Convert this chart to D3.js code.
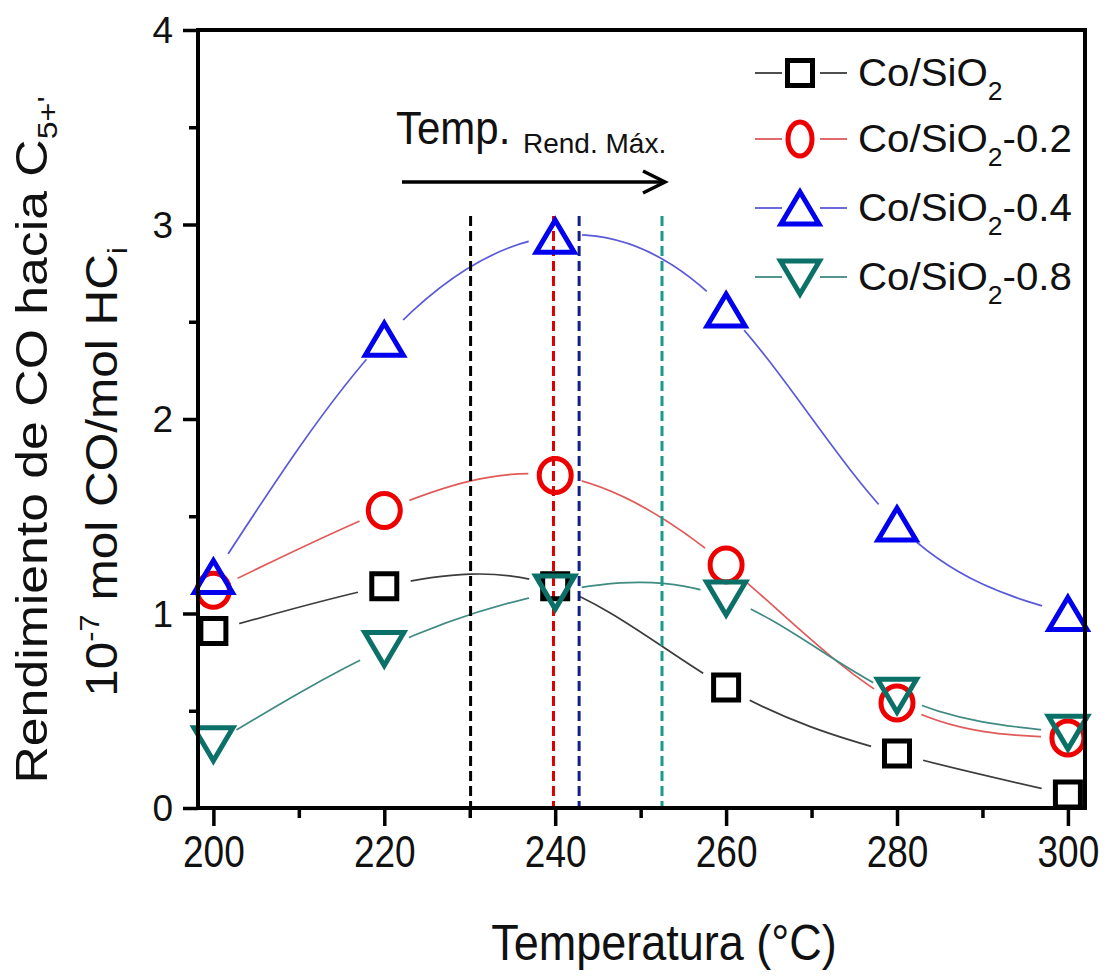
<!DOCTYPE html>
<html>
<head>
<meta charset="utf-8">
<script src="https://cdn.jsdelivr.net/npm/d3@7"></script>
<style>
  body { margin: 0; background: #fff; }
  svg { display: block; }
  text { font-family: Arial, "Liberation Sans", sans-serif; fill: #111; }
</style>
</head>
<body>
<svg id="chart" width="1110" height="977"></svg>
<script>
// Reaction temperature (°C)
const temperatures = [200, 220, 240, 260, 280, 300];
// CO yield towards C5+ (10^-7 mol CO / mol HC_i) for each catalyst
const yieldCoSiO2    = [0.91, 1.14, 1.14, 0.62, 0.28, 0.07];
const yieldCoSiO2_02 = [1.12, 1.53, 1.71, 1.25, 0.54, 0.36];
const yieldCoSiO2_04 = [1.19, 2.41, 2.94, 2.56, 1.46, 1.00];
const yieldCoSiO2_08 = [0.33, 0.82, 1.11, 1.08, 0.58, 0.39];
// Temperature of maximum yield for each catalyst
const maxYieldTemps  = [230.1, 239.8, 242.8, 252.5];
const seriesSuffix   = ["", "-0.2", "-0.4", "-0.8"];
const xTicks = [200, 220, 240, 260, 280, 300];
const xMinorTicks = [210, 230, 250, 270, 290];
const yTicks = [0, 1, 2, 3, 4];
const yMinorTicks = [0.5, 1.5, 2.5, 3.5];

const seriesValues = [yieldCoSiO2, yieldCoSiO2_02, yieldCoSiO2_04, yieldCoSiO2_08];
const markerShapes = ["square", "circle", "triangleUp", "triangleDown"];
const lineColors   = ["#3c3c3c", "#e05a5a", "#5a5ad8", "#3f8a82"];
const markerColors = ["#000000", "#ee0000", "#0000ee", "#0a7068"];
const dashColors   = ["#000000", "#dd0000", "#12208a", "#1a9a8c"];

const svg = d3.select("#chart");
const plotLeft = 198, plotRight = 1085, plotTop = 30, plotBottom = 808;

const x = d3.scaleLinear().domain([198.2, 302]).range([plotLeft, plotRight]);
const y = d3.scaleLinear().domain([0, 4]).range([plotBottom, plotTop]);

function ellipsePath(rx, ry) {
  return `M${rx},0A${rx},${ry} 0 1,1 ${-rx},0A${rx},${ry} 0 1,1 ${rx},0Z`;
}
// marker outline, centred on (0,0)
function markerPath(shape, legend) {
  switch (shape) {
    case "square": return "M-12.5,-12.5H12.5V12.5H-12.5Z";
    case "circle": return legend ? ellipsePath(12, 17) : ellipsePath(16, 17);
    case "triangleUp": return "M0,-16L19,16L-19,16Z";
    case "triangleDown": return "M0,17L19.5,-16L-19.5,-16Z";
  }
}

// ---- gap masks so connecting curves stop short of each marker ----
const defs = svg.append("defs");
seriesValues.forEach((vals, i) => {
  const m = defs.append("mask").attr("id", "gap" + i).attr("maskUnits", "userSpaceOnUse")
    .attr("x", 0).attr("y", 0).attr("width", 1110).attr("height", 977);
  m.append("rect").attr("width", 1110).attr("height", 977).attr("fill", "#fff");
  m.selectAll("circle").data(temperatures).join("circle")
    .attr("cx", d => x(d)).attr("cy", (d, k) => y(vals[k])).attr("r", 27).attr("fill", "#000");
});

// ---- spline curves ----
const line = d3.line().x(d => x(d[0])).y(d => y(d[1])).curve(d3.curveNatural);
seriesValues.forEach((vals, i) => {
  svg.append("path")
    .attr("d", line(temperatures.map((t, k) => [t, vals[k]])))
    .attr("fill", "none")
    .attr("stroke", lineColors[i])
    .attr("stroke-width", 1.7)
    .attr("mask", `url(#gap${i})`);
});

// ---- vertical dashed lines at the temperature of maximum yield ----
svg.selectAll("line.tmax").data(maxYieldTemps).join("line")
  .attr("class", "tmax")
  .attr("x1", d => x(d)).attr("x2", d => x(d))
  .attr("y1", 216).attr("y2", plotBottom)
  .attr("stroke", (d, i) => dashColors[i])
  .attr("stroke-width", 3)
  .attr("stroke-dasharray", "10,5");

// ---- markers ----
seriesValues.forEach((vals, i) => {
  svg.append("g").selectAll("path").data(temperatures).join("path")
    .attr("transform", (d, k) => `translate(${x(d)},${y(vals[k])})`)
    .attr("d", markerPath(markerShapes[i], false))
    .attr("fill", "none")
    .attr("stroke", markerColors[i])
    .attr("stroke-width", 5)
    .attr("stroke-linejoin", "miter");
});

// ---- axes ----
const fontFamily = "Arial, 'Liberation Sans', sans-serif";
const xAxis = svg.append("g").attr("transform", `translate(0,${plotBottom})`)
  .call(d3.axisBottom(x).tickValues(xTicks).tickSize(18).tickFormat(d3.format("d")));
xAxis.select(".domain").remove();
xAxis.selectAll(".tick line").attr("stroke", "#000").attr("stroke-width", 3.5);
xAxis.selectAll(".tick text")
  .attr("y", 0).attr("dy", 0)
  .attr("transform", "translate(0,59) scale(1,1.2)")
  .attr("font-size", 37).attr("fill", "#111").attr("font-family", fontFamily);

const xMinor = svg.append("g").attr("transform", `translate(0,${plotBottom})`)
  .call(d3.axisBottom(x).tickValues(xMinorTicks).tickSize(10).tickFormat(""));
xMinor.select(".domain").remove();
xMinor.selectAll(".tick line").attr("stroke", "#000").attr("stroke-width", 3.5);

const yAxis = svg.append("g").attr("transform", `translate(${plotLeft},0)`)
  .call(d3.axisLeft(y).tickValues(yTicks).tickSize(15).tickFormat(d3.format("d")));
yAxis.select(".domain").remove();
yAxis.selectAll(".tick line").attr("stroke", "#000").attr("stroke-width", 3.5);
yAxis.selectAll(".tick text")
  .attr("x", -25).attr("dy", "0.35em")
  .attr("font-size", 37).attr("fill", "#111").attr("font-family", fontFamily);

const yMinor = svg.append("g").attr("transform", `translate(${plotLeft},0)`)
  .call(d3.axisLeft(y).tickValues(yMinorTicks).tickSize(9).tickFormat(""));
yMinor.select(".domain").remove();
yMinor.selectAll(".tick line").attr("stroke", "#000").attr("stroke-width", 3.5);

// plot frame
svg.append("rect")
  .attr("x", plotLeft).attr("y", plotTop)
  .attr("width", plotRight - plotLeft).attr("height", plotBottom - plotTop)
  .attr("fill", "none").attr("stroke", "#000").attr("stroke-width", 4);

// ---- axis titles ----
svg.append("text")
  .attr("transform", "translate(664,960) scale(1,1.1)")
  .attr("text-anchor", "middle").attr("font-size", 45)
  .text("Temperatura (°C)");

const yt1 = svg.append("text")
  .attr("transform", "translate(47,440) rotate(-90) scale(1.15,1)")
  .attr("text-anchor", "middle").attr("font-size", 45);
yt1.append("tspan").text("Rendimiento de CO hacia C");
yt1.append("tspan").attr("font-size", 28).attr("dy", 10).text("5+'");

const yt2 = svg.append("text")
  .attr("transform", "translate(117,472) rotate(-90) scale(1.1,1)")
  .attr("text-anchor", "middle").attr("font-size", 45);
yt2.append("tspan").text("10");
yt2.append("tspan").attr("font-size", 28).attr("dy", -18).text("-7");
yt2.append("tspan").attr("dy", 18).text(" mol CO/mol HC");
yt2.append("tspan").attr("font-size", 28).attr("dy", 10).text("i");

// ---- annotation: shift of the maximum-yield temperature ----
svg.append("text").attr("transform", "translate(396,144) scale(1,1.08)")
  .attr("font-size", 42).text("Temp.");
svg.append("text").attr("x", 523).attr("y", 153).attr("font-size", 28).text("Rend. Máx.");
svg.append("line").attr("x1", 402).attr("x2", 664).attr("y1", 182).attr("y2", 182)
  .attr("stroke", "#000").attr("stroke-width", 3.5);
svg.append("path").attr("d", "M643,171L665,182L643,193")
  .attr("fill", "none").attr("stroke", "#000").attr("stroke-width", 3.5);

// ---- legend ----
const legendRows = [73, 139, 208, 277];
seriesValues.forEach((vals, i) => {
  const g = svg.append("g").attr("transform", `translate(0,${legendRows[i]})`);
  g.append("line").attr("x1", 755).attr("x2", 782).attr("y1", 0).attr("y2", 0)
    .attr("stroke", lineColors[i]).attr("stroke-width", 1.8);
  g.append("line").attr("x1", 820).attr("x2", 847).attr("y1", 0).attr("y2", 0)
    .attr("stroke", lineColors[i]).attr("stroke-width", 1.8);
  g.append("path")
    .attr("transform", "translate(800,0)")
    .attr("d", markerPath(markerShapes[i], true))
    .attr("fill", "none").attr("stroke", markerColors[i])
    .attr("stroke-width", 5).attr("stroke-linejoin", "miter");
  const t = g.append("text").attr("transform", "translate(858,13) scale(1.06,1.04)").attr("font-size", 38);
  t.append("tspan").text("Co/SiO");
  t.append("tspan").attr("font-size", 25).attr("dy", 13).text("2");
  if (seriesSuffix[i]) t.append("tspan").attr("dy", -13).text(seriesSuffix[i]);
});
</script>
</body>
</html>
